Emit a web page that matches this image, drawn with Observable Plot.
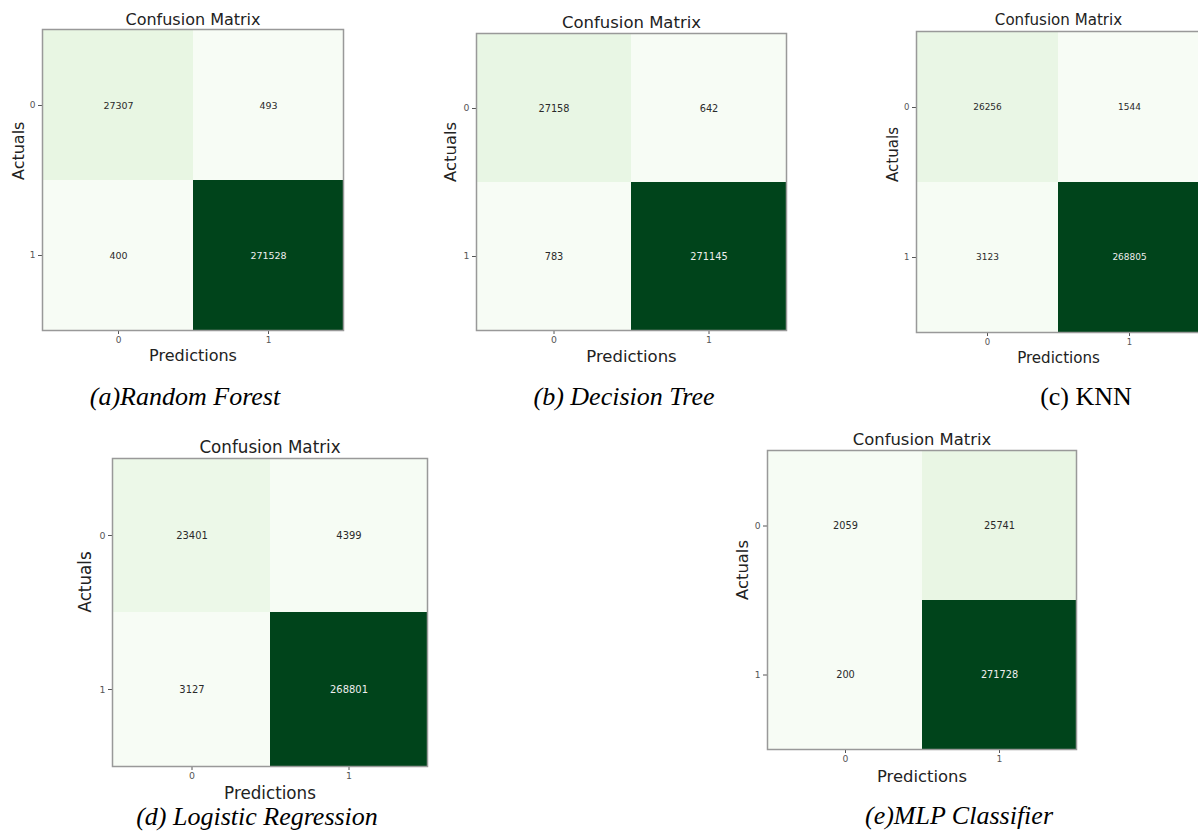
<!DOCTYPE html>
<html>
<head>
<meta charset="utf-8">
<script src="https://cdn.jsdelivr.net/npm/d3@7"></script>
<script src="https://cdn.jsdelivr.net/npm/@observablehq/plot@0.6"></script>
<style>
  html, body { margin: 0; padding: 0; background: #fff; }
  #fig { position: relative; width: 1198px; height: 831px; overflow: hidden; background: #fff; }
  .panel { position: absolute; }
  .panel svg { max-width: none !important; display: block; }
  .caption { position: absolute; transform: translate(-50%, -50%); font-family: "Liberation Serif", "Times New Roman", serif; font-size: 26px; line-height: 1; white-space: nowrap; color: #000; }
</style>
</head>
<body>
<div id="fig"></div>
<script>
// ---- data ----
const classLabels = ["0", "1"];
const chartTitle = "Confusion Matrix";
const xAxisLabel = "Predictions";
const yAxisLabel = "Actuals";
const modelCaptions = ["(a)Random Forest", "(b) Decision Tree", "(c) KNN", "(d) Logistic Regression", "(e)MLP Classifier"];
// row-major: [actual0/pred0, actual0/pred1, actual1/pred0, actual1/pred1]
const randomForest = [27307, 493, 400, 271528];
const decisionTree = [27158, 642, 783, 271145];
const knn = [26256, 1544, 3123, 268805];
const logisticRegression = [23401, 4399, 3127, 268801];
const mlpClassifier = [2059, 25741, 200, 271728];

const matrices = [randomForest, decisionTree, knn, logisticRegression, mlpClassifier];

// ---- layout (plot-area pixel boxes in the figure) ----
const layout = [
  {L: 42,  T: 29,  R: 343,  B: 330, titleY: 19,  actX: 18,  predY: 355, capX: 185, capY: 397, italic: true},
  {L: 476, T: 33,  R: 786,  B: 330, titleY: 22,  actX: 450, predY: 356, capX: 624, capY: 397, italic: true},
  {L: 916, T: 31,  R: 1200, B: 332, titleY: 20,  actX: 893, predY: 358, capX: 1086, capY: 397, italic: false},
  {L: 112, T: 458, R: 427,  B: 766, titleY: 447, actX: 85,  predY: 793, capX: 257, capY: 817, italic: true},
  {L: 767, T: 450, R: 1076, B: 749, titleY: 439, actX: 742, predY: 776, capX: 959, capY: 816, italic: true}
];

const fig = document.getElementById("fig");
const mL = 50, mT = 40, mR = 10, mB = 45;

matrices.forEach((vals, k) => {
  const g = layout[k];
  const cells = vals.map((v, i) => ({actual: classLabels[i >> 1], pred: classLabels[i & 1], value: v}));
  const lo = d3.min(vals), hi = d3.max(vals);
  const mid = (lo + hi) / 2;
  const s = (g.R - g.L) / 301;
  const w = g.R - g.L, h = g.B - g.T;
  const W = mL + w + mR, H = mT + h + mB;

  const chart = Plot.plot({
    width: W,
    height: H,
    marginLeft: mL, marginTop: mT, marginRight: mR, marginBottom: mB,
    style: {fontFamily: "DejaVu Sans, sans-serif", fontSize: (9 * s).toFixed(1) + "px", color: "#555", background: "transparent"},
    x: {domain: classLabels, padding: 0, label: null, tickSize: 4, tickPadding: 2},
    y: {domain: classLabels, padding: 0, label: null, tickSize: 4, tickPadding: 3},
    color: {type: "linear", scheme: "greens", domain: [lo, hi]},
    marks: [
      Plot.cell(cells, {x: "pred", y: "actual", fill: "value"}),
      Plot.text(cells.filter(d => d.value <= mid), {x: "pred", y: "actual", text: d => String(d.value), fill: "#2a2a2a", fontSize: 9.5 * s}),
      Plot.text(cells.filter(d => d.value > mid), {x: "pred", y: "actual", text: d => String(d.value), fill: "#eeeeee", fontSize: 9.5 * s}),
      Plot.frame({stroke: "#999", strokeWidth: 1.5}),
      Plot.text([chartTitle], {frameAnchor: "top", dy: g.titleY - g.T, lineAnchor: "middle", fontSize: 16 * s, fill: "#222"}),
      Plot.text([yAxisLabel], {frameAnchor: "left", dx: g.actX - g.L, rotate: -90, lineAnchor: "middle", fontSize: 16 * s, fill: "#222"}),
      Plot.text([xAxisLabel], {frameAnchor: "bottom", dy: g.predY - g.B, lineAnchor: "middle", fontSize: 16 * s, fill: "#222"})
    ]
  });

  const div = document.createElement("div");
  div.className = "panel";
  div.style.left = (g.L - mL) + "px";
  div.style.top = (g.T - mT) + "px";
  div.style.width = W + "px";
  div.style.height = H + "px";
  div.appendChild(chart);
  fig.appendChild(div);

  const cap = document.createElement("div");
  cap.className = "caption";
  cap.style.left = g.capX + "px";
  cap.style.top = g.capY + "px";
  cap.style.fontStyle = g.italic ? "italic" : "normal";
  cap.textContent = modelCaptions[k];
  fig.appendChild(cap);
});
</script>
</body>
</html>
